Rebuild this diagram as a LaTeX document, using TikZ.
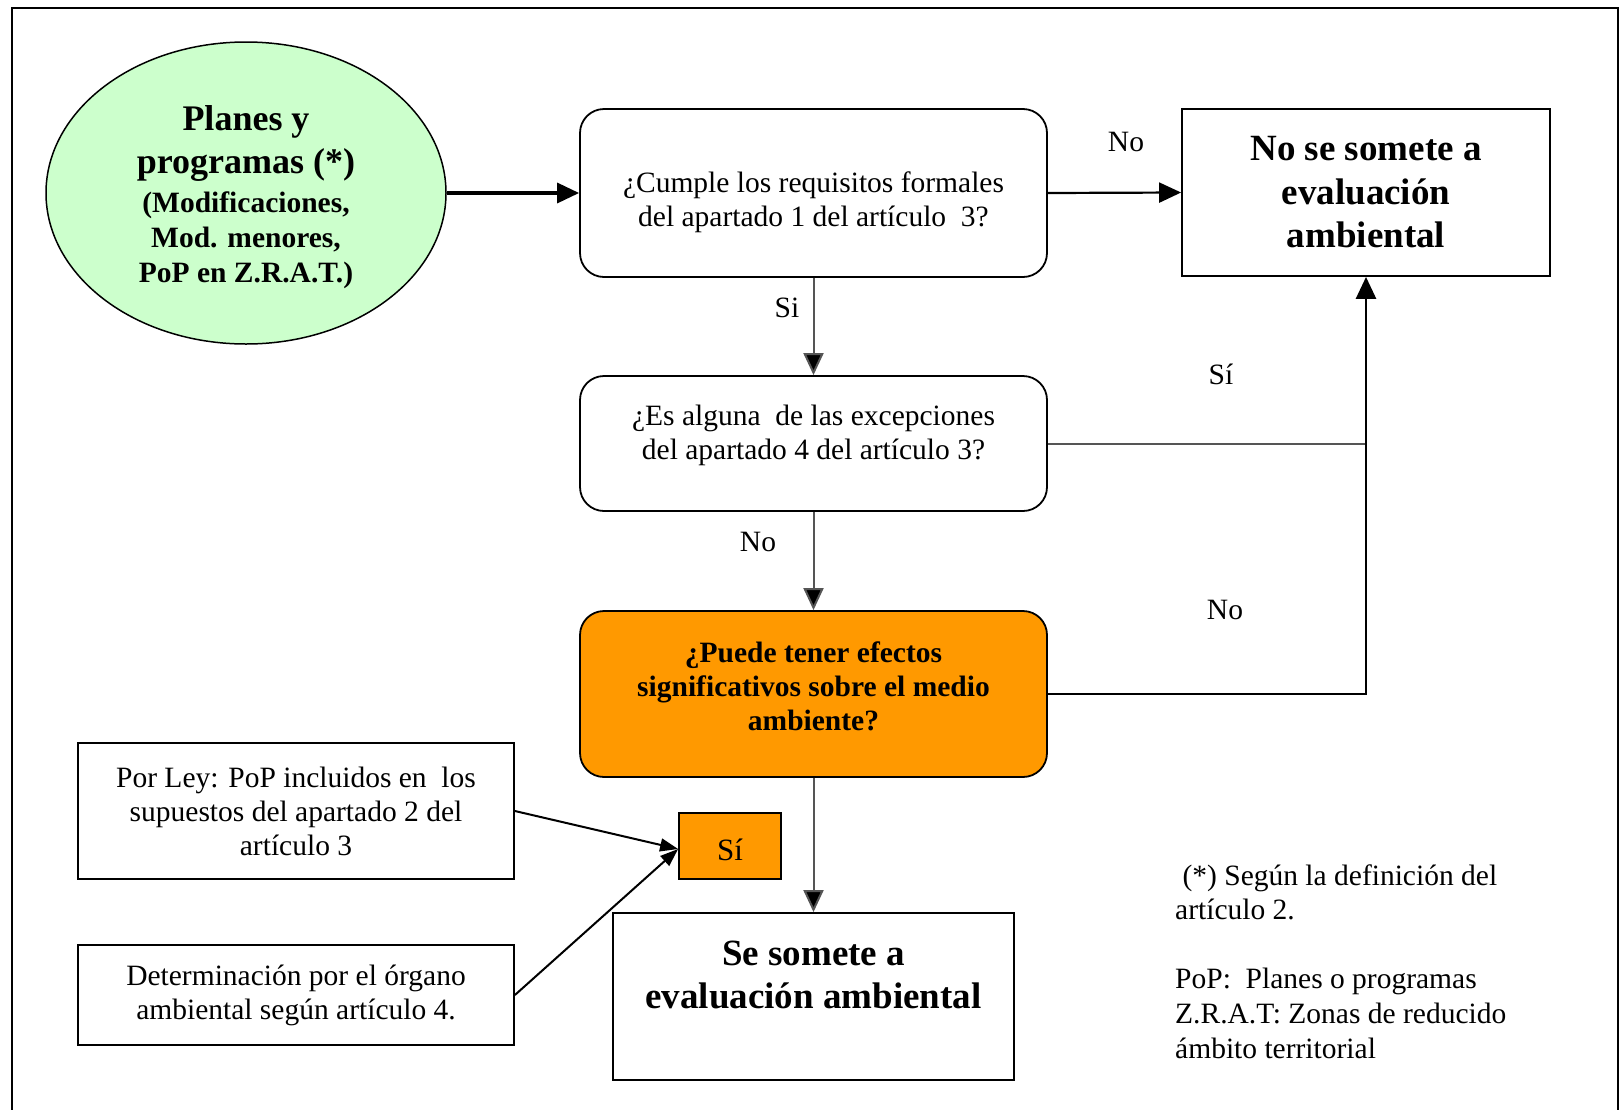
\documentclass[tikz,border=0pt]{standalone}
\usepackage{fontspec}
\setmainfont{Liberation Serif}
\usetikzlibrary{arrows.meta,shapes.geometric}
\definecolor{ellgreen}{HTML}{CCFFCC}
\definecolor{boxorange}{HTML}{FF9900}
\definecolor{lgray}{HTML}{555555}
\begin{document}
\begin{tikzpicture}[x=1pt,y=-1pt,
  txt/.style={font=\fontsize{29.5}{34}\selectfont},
  btxt/.style={font=\bfseries\fontsize{29.5}{34}\selectfont},
  bigtxt/.style={font=\bfseries\fontsize{37}{43.5}\selectfont},
  box/.style={draw, line width=1.8pt, inner sep=0pt, align=center},
  rbox/.style={box, rounded corners=24pt},
  arr/.style={line width=2.2pt, -{Triangle[length=22pt,width=20pt]}},
  garr/.style={line width=2pt, draw=lgray, -{Triangle[length=22pt,width=20pt,fill=black]}},
  sarr/.style={line width=2pt, -{Triangle[length=18pt,width=13pt]}},
  lab/.style={txt, inner sep=0pt},
  ]
\useasboundingbox (0,0) rectangle (1621,1109);
\draw[line width=2.4pt] (12,1112) -- (12,8) -- (1618,8) -- (1618,1112);

\node[ellipse, draw, line width=1.5pt, fill=ellgreen, minimum width=400pt, minimum height=302pt,
      inner sep=0pt, align=center, font=\bfseries\fontsize{29.5}{35}\selectfont] (ell) at (246,193)
  {{\fontsize{36}{43}\selectfont\rule{0pt}{33pt}Planes y}\\[8pt]{\fontsize{36}{43}\selectfont programas (*)}\\[4pt](Modificaciones,\\Mod. menores,\\PoP en Z.R.A.T.)};

\node[rbox, txt, minimum width=467pt, minimum height=168pt] (q1) at (813.5,193)
  {\rule{0pt}{40pt}¿Cumple los requisitos formales\\del apartado 1 del artículo~~3?};
\node[box, bigtxt, minimum width=368pt, minimum height=167pt] (nose) at (1366,192.5)
  {No se somete a\\evaluación\\ambiental};
\node[rbox, txt, minimum width=467pt, minimum height=135pt] (q2) at (813.5,443.5)
  {¿Es alguna~~de las excepciones\\del apartado 4 del artículo 3?\rule[-22pt]{0pt}{0pt}};
\node[rbox, btxt, fill=boxorange, minimum width=467pt, minimum height=166pt] (q3) at (813.5,694)
  {¿Puede tener efectos\\significativos sobre el medio\\ambiente?\rule[-16pt]{0pt}{0pt}};
\node[box, fill=boxorange, font=\fontsize{31}{36}\selectfont, minimum width=102pt, minimum height=66pt] (si) at (730,846) {\rule{0pt}{30pt}Sí};
\node[box, bigtxt, minimum width=401pt, minimum height=167pt] (se) at (813.5,996.5)
  {Se somete a\\evaluación ambiental\\\mbox{}};
\node[box, txt, minimum width=436pt, minimum height=136pt] (ley) at (296,811)
  {Por Ley: PoP incluidos en~~los\\supuestos del apartado 2 del\\artículo 3};
\node[box, txt, minimum width=436pt, minimum height=100pt] (det) at (296,995)
  {Determinación por el órgano\\ambiental según artículo 4.};

\node[txt, inner sep=0pt, align=left, anchor=north west] (nota) at (1175,865)
  {\ (*) Según la definición del\\artículo 2.\\[35pt]PoP:~~Planes o programas\\[1pt]Z.R.A.T: Zonas de reducido\\[1pt]ámbito territorial};

\draw[line width=3.4pt, -{Triangle[length=22pt,width=20pt]}] (ell.east) -- (q1.west);
\draw[arr] (q1.east) -- (nose.west);
\draw[garr] (q1.south) -- (q2.north);
\draw[garr] (q2.south) -- (q3.north);
\draw[garr] (q3.south) -- (se.north);
\draw[line width=2pt, draw=lgray] (q2.east) -- (q2.east -| nose.south);
\draw[arr, line width=2.6pt] (q3.east) -| (nose.south);
\draw[sarr] (ley.east) -- ([yshift=-3pt]si.west);
\draw[sarr] (det.east) -- ([yshift=-3pt]si.west);

\node[lab] (l1) at (1126,142) {No};
\node[lab] (l2) at (787,308) {Si};
\node[lab] (l3) at (1221,374) {Sí};
\node[lab] (l4) at (758,542) {No};
\node[lab] (l5) at (1225,610) {No};
\end{tikzpicture}
\end{document}
